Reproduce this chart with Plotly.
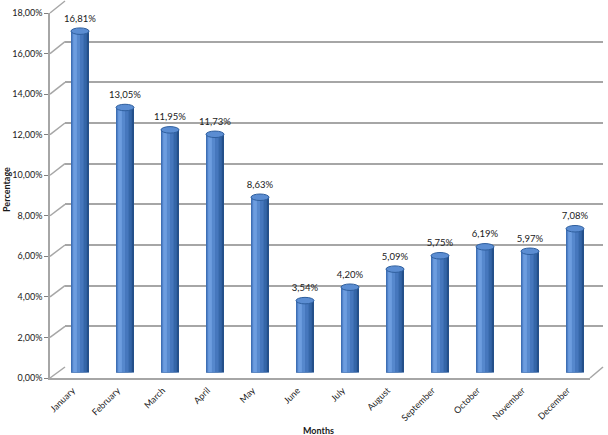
import plotly.graph_objects as go

months = ["January", "February", "March", "April", "May", "June", "July",
          "August", "September", "October", "November", "December"]
values = [16.81, 13.05, 11.95, 11.73, 8.63, 3.54, 4.20, 5.09, 5.75, 6.19, 5.97, 7.08]
value_labels = ["16,81%", "13,05%", "11,95%", "11,73%", "8,63%", "3,54%", "4,20%",
                "5,09%", "5,75%", "6,19%", "5,97%", "7,08%"]
y_ticks = [0, 2, 4, 6, 8, 10, 12, 14, 16, 18]
y_tick_labels = ["0,00%", "2,00%", "4,00%", "6,00%", "8,00%", "10,00%", "12,00%",
                 "14,00%", "16,00%", "18,00%"]

W, H = 608, 435
ML, MR, MT, MB = 50, 5, 0, 57
PW, PH = W - ML - MR, H - MT - MB
YMAX = 18

def px_x(p):
    return (p - ML) / PW

def px_y(p):
    return (H - MB - p) / PH

FONT = "Lato"
GRID = "#a6a6a6"
TXT = "#1a1a1a"

front_x0, front_x1 = 50, 590
front_y0, front_y1 = 378, 13
back_x0, back_x1 = 65, 603
back_y0, back_y1 = 367, 1
mid_x0, mid_x1 = 57.5, 597.5
mid_y0, mid_y1 = 372.5, 7

BAR_W = 0.40
CAP_H = 0.16  # half-height of cylinder cap, in data units

fig = go.Figure()

# back wall subplot (grid)
fig.add_trace(go.Scatter(x=[0], y=[0], xaxis="x", yaxis="y", mode="markers",
                         marker=dict(opacity=0), hoverinfo="skip", showlegend=False))

# cylinders
layers = [
    (0.40, -0.20, "#24508a"),
    (0.35, -0.20, "#3566a8"),
    (0.27, -0.19, "#4677bd"),
    (0.17, -0.17, "#5688cd"),
    (0.08, -0.15, "#6d9ddf"),
]
for w, off, col in layers:
    fig.add_trace(go.Bar(x=months, y=values, xaxis="x2", yaxis="y2", width=w, offset=off,
                         marker=dict(color=col, line=dict(width=0)),
                         hoverinfo="skip", showlegend=False))
fig.add_trace(go.Scatter(x=months, y=values, xaxis="x2", yaxis="y2", mode="markers+text",
                         marker=dict(size=10, opacity=0),
                         text=value_labels, textposition="top center",
                         textfont=dict(family=FONT, size=9.5, color=TXT),
                         cliponaxis=False, showlegend=False, hoverinfo="skip"))

# front face subplot (axis lines, tick labels)
fig.add_trace(go.Scatter(x=months, y=[0] * len(months), xaxis="x3", yaxis="y3", mode="markers",
                         marker=dict(opacity=0), hoverinfo="skip", showlegend=False))

shapes = []
for v in y_ticks:
    fy = front_y0 - (front_y0 - front_y1) * v / YMAX
    by = back_y0 - (back_y0 - back_y1) * v / YMAX
    shapes.append(dict(type="line", xref="paper", yref="paper", layer="below",
                       x0=px_x(front_x0), y0=px_y(fy), x1=px_x(back_x0), y1=px_y(by),
                       line=dict(color=GRID, width=1.5)))
shapes.append(dict(type="line", xref="paper", yref="paper", layer="below",
                   x0=px_x(front_x1), y0=px_y(front_y0), x1=px_x(back_x1), y1=px_y(back_y0),
                   line=dict(color=GRID, width=1.5)))
for i, v in enumerate(values):
    shapes.append(dict(type="circle", xref="x2", yref="y2", layer="between",
                       x0=i - BAR_W / 2, x1=i + BAR_W / 2, y0=-CAP_H, y1=CAP_H,
                       fillcolor="#3566a8", line=dict(width=0)))
    shapes.append(dict(type="circle", xref="x2", yref="y2", layer="above",
                       x0=i - BAR_W / 2, x1=i + BAR_W / 2, y0=v - CAP_H, y1=v + CAP_H,
                       fillcolor="#5b8dd2", line=dict(color="#2f5f9e", width=1)))

fig.update_layout(
    width=W, height=H,
    margin=dict(l=ML, r=MR, t=MT, b=MB, autoexpand=False),
    paper_bgcolor="white", plot_bgcolor="rgba(0,0,0,0)",
    barmode="overlay",
    showlegend=False,
    shapes=shapes,
    xaxis=dict(domain=[px_x(back_x0), px_x(back_x1)], anchor="y", range=[0, 1],
               visible=False, showgrid=False, zeroline=False, automargin=False),
    yaxis=dict(domain=[px_y(back_y0), px_y(back_y1)], anchor="x", range=[0, YMAX],
               tickvals=y_ticks, showticklabels=False, showgrid=True, gridcolor=GRID,
               gridwidth=1.5, zeroline=False, ticks="", automargin=False),
    xaxis2=dict(domain=[px_x(mid_x0), px_x(mid_x1)], anchor="y2", type="category",
                categoryorder="array", categoryarray=months, range=[-0.5, 11.5],
                showticklabels=False, ticks="",
                showgrid=False, zeroline=False, showline=False, automargin=False),
    yaxis2=dict(domain=[px_y(mid_y0), px_y(mid_y1)], anchor="x2", range=[0, YMAX],
                visible=False, showgrid=False, zeroline=False, automargin=False),
    xaxis3=dict(domain=[px_x(front_x0), px_x(front_x1)], anchor="y3", type="category",
                categoryorder="array", categoryarray=months, range=[-0.5, 11.5],
                tickangle=-45, ticks="outside", ticklen=2, tickcolor="rgba(0,0,0,0)",
                tickfont=dict(family=FONT, size=9, color=TXT),
                showgrid=False, zeroline=False,
                showline=True, linecolor=GRID, linewidth=1.5, automargin=False),
    yaxis3=dict(domain=[px_y(front_y0), px_y(front_y1)], anchor="x3", range=[0, YMAX],
                tickvals=y_ticks, ticktext=y_tick_labels, ticks="outside", ticklen=4,
                tickcolor="#808080", showline=True, linecolor=GRID, linewidth=1.5,
                showgrid=False, zeroline=False, automargin=False,
                tickfont=dict(family=FONT, size=9, color=TXT)),
    annotations=[
        dict(text="<b>Percentage</b>", xref="paper", yref="paper",
             x=px_x(6), y=px_y(190), xanchor="center", yanchor="middle",
             textangle=-90, showarrow=False,
             font=dict(family=FONT, size=9, color=TXT)),
        dict(text="<b>Months</b>", xref="paper", yref="paper",
             x=px_x(318), y=px_y(430), xanchor="center", yanchor="middle",
             showarrow=False,
             font=dict(family=FONT, size=9, color=TXT)),
    ],
)

fig.write_html("out.html", config={"displayModeBar": False},
               post_script="document.body.style.margin='0';document.body.style.padding='0';")
